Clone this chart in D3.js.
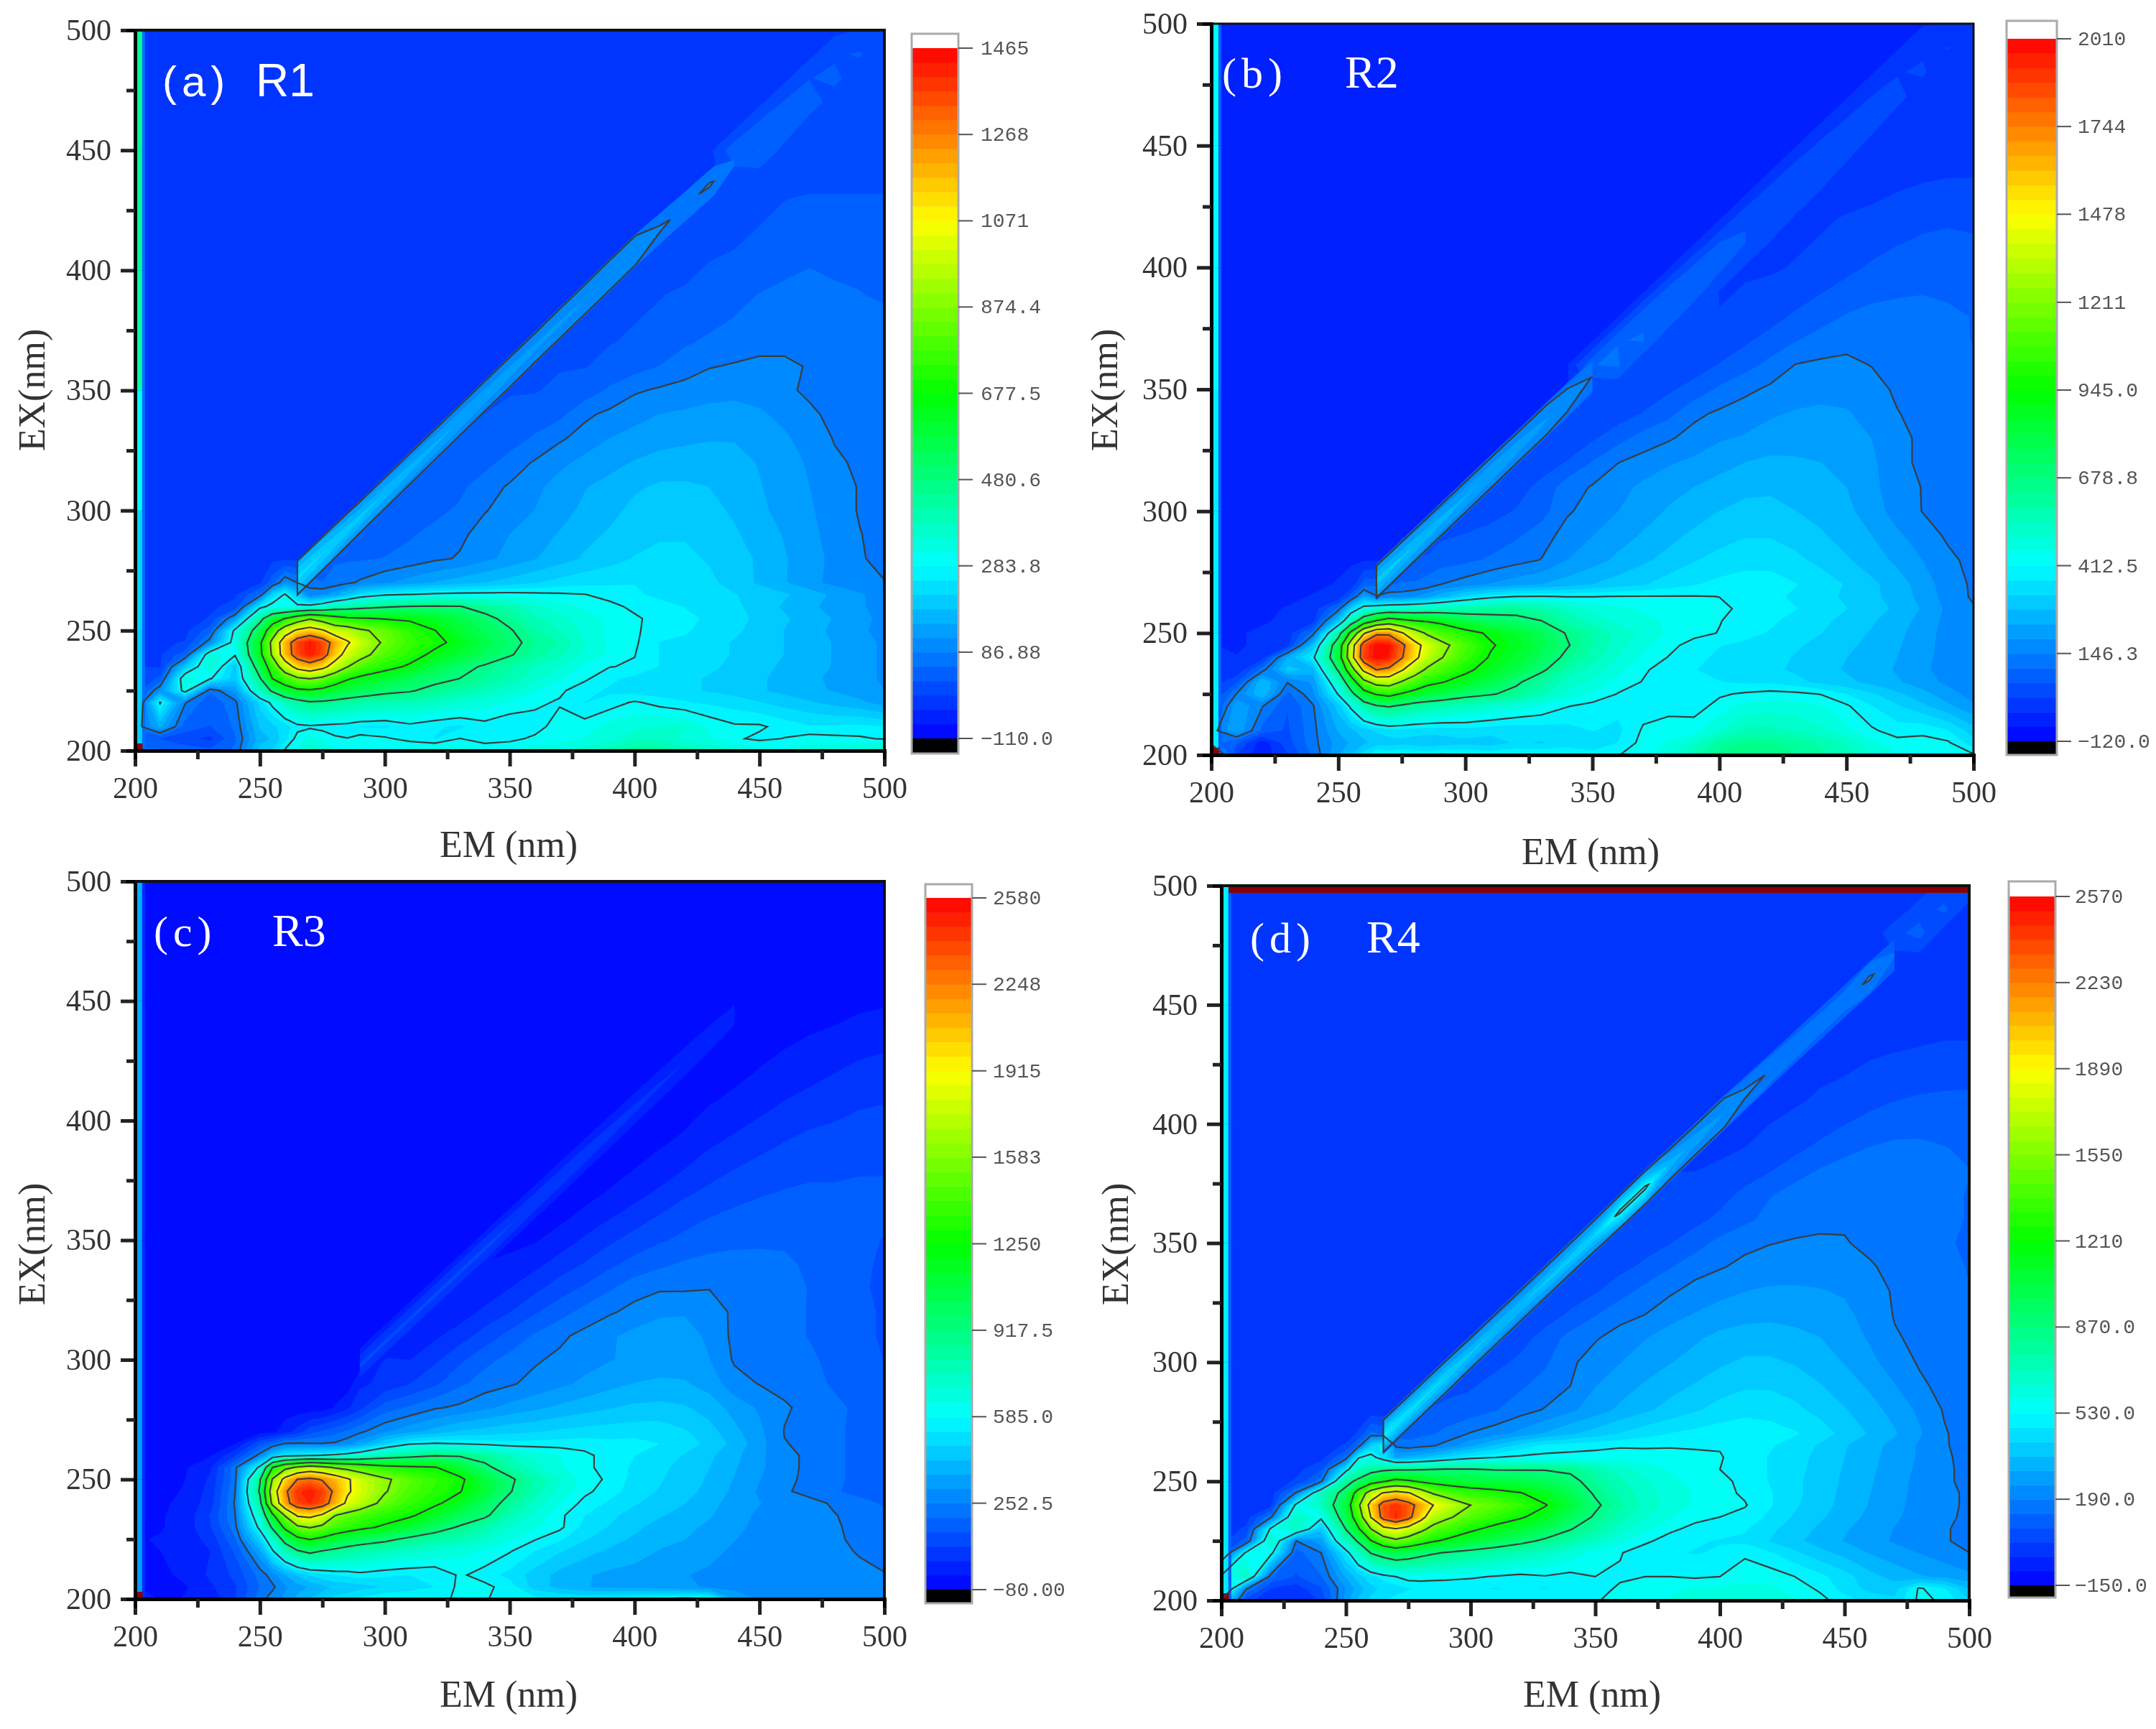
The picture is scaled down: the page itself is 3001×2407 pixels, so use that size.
<!DOCTYPE html>
<html><head><meta charset="utf-8"><script src="https://cdnjs.cloudflare.com/ajax/libs/d3/7.8.5/d3.min.js"></script>
<style>html,body{margin:0;background:#fff}svg{display:block;filter:blur(0.7px)}</style></head><body>
<svg id="c" width="3001" height="2407"></svg>
<script>
const EM=[200,210,220,230,240,250,255,260,265,270,275,280,285,290,300,310,320,330,340,350,360,370,380,390,400,410,420,430,440,450,460,470,480,490,500];
const EX=[200,205,210,220,225,230,235,240,245,250,255,260,265,270,280,290,300,310,320,330,340,350,360,370,380,390,400,410,420,430,440,450,460,470,480,490,500];
// rows run from EX 200 upward; short rows are right-aligned (to their left lies the flat background)
const R1=[
[60,60,40,30,60,200,220,290,320,380,350,320,300,320,300,330,340,330,320,310,340,350,360,400,450,440,400,380,350,330,320,340,340,360,400],
[30,20,0,-20,50,170,190,240,300,330,310,290,285,300,290,270,250,285,260,275,290,290,320,340,370,370,340,320,290,275,285,300,295,290,280],
[60,160,40,20,60,190,210,235,270,275,270,265,262,250,245,270,255,245,270,255,270,300,300,330,340,350,350,310,290,290,270,255,255,260,250],
[-5,290,90,30,75,230,300,380,430,465,460,445,430,415,400,390,370,350,330,310,290,280,250,265,290,270,255,245,235,220,205,190,175,160,140],
[-10,120,310,60,130,380,500,600,650,660,640,600,570,550,510,490,450,420,390,360,320,290,265,245,235,230,225,215,205,190,175,160,150,135,120],
[-10,30,340,290,200,470,680,770,850,880,840,760,690,650,600,550,510,480,440,400,360,320,290,260,240,230,225,215,205,190,175,160,145,130,115],
[-10,-15,200,360,200,560,760,980,1130,1190,1120,1000,880,800,720,660,570,510,470,420,380,350,310,285,280,250,240,225,210,195,180,165,150,130,115],
[-10,-15,40,340,290,640,900,1170,1350,1430,1350,1150,1010,930,800,730,650,600,540,490,430,390,340,310,285,250,240,230,215,200,185,170,150,130,115],
[-10,-15,-10,110,320,650,920,1180,1360,1440,1360,1210,1090,990,850,760,710,640,570,510,450,410,350,310,290,250,245,230,215,200,185,170,150,130,115],
[-15,-20,-20,40,300,560,780,980,1100,1150,1090,980,960,900,830,740,680,600,540,490,420,380,340,310,290,265,255,240,225,205,185,165,145,125,110],
[-15,-20,-20,-10,130,440,590,680,780,860,800,740,700,690,670,660,620,570,510,450,390,360,330,310,290,270,260,245,230,210,190,170,150,130,110],
[-15,-20,-20,-15,-5,260,310,300,300,310,340,400,420,440,470,485,490,485,440,400,360,330,310,295,275,260,250,240,225,205,180,160,140,125,105],
[-15,-20,-20,-20,-15,60,220,290,200,95,115,140,190,240,275,285,295,300,300,300,295,290,285,270,255,245,240,230,220,205,190,170,145,125,100],
[-15,-20,-20,-20,-20,-15,40,120,85,80,55,65,78,92,115,135,155,170,185,200,215,230,240,245,250,245,235,225,205,180,155,130,110,95,88],
[-20,-20,20,50,50,50,55,65,80,90,110,130,150,170,190,205,220,225,225,215,200,180,155,135,110,90,78],
[-20,-20,-20,40,45,50,65,80,100,120,140,155,175,190,205,215,215,205,190,170,150,130,105,88,78],
[-20,-20,30,40,45,60,85,100,120,140,160,175,195,205,205,195,180,160,140,125,100,85,75],
[-20,30,35,45,75,90,110,135,150,165,180,190,190,185,170,155,135,120,100,85,80],
[-20,28,30,40,70,90,110,130,140,155,165,170,170,165,150,135,115,92,82,78],
[-20,25,30,35,60,82,100,120,130,140,145,150,150,140,125,105,85,78,75],
[-20,22,25,30,45,80,95,110,120,125,130,130,125,110,92,80,75,70],
[-20,20,20,25,35,60,82,92,100,108,112,105,92,82,75,70,65],
[-20,18,20,20,30,40,55,70,85,90,92,92,85,75,70,65],
[-20,18,20,20,25,35,50,60,70,80,80,75,70,65,60],
[-20,18,20,20,25,35,45,55,65,70,70,70,65,60],
[-20,16,20,20,25,35,45,55,60,60,60,55,50],
[-20,15,15,15,25,30,40,50,55,50,50,45],
[-20,15,15,15,20,30,40,45,45,40,35],
[-20,14,15,15,20,30,35,35,35,30],
[-20,12,15,10,20,25,25,25,25],
[-20,10,10,5,5,5,5,5],
[45,55,10,5,0,0,0],
[35,45,5,0,-5,-5],
[25,40,5,-5,-10],
[20,30,0,-10],
[15,25,-5],
[-10,10]];
const R2=[
[300,10,-60,10,110,230,280,350,420,400,420,410,400,420,415,400,415,410,400,390,410,440,480,560,650,670,660,640,600,560,500,460,450,460,420],
[120,70,-60,40,130,210,240,270,300,300,310,300,290,300,310,300,330,320,350,330,370,430,460,520,610,640,640,620,580,540,470,430,430,420,340],
[120,230,90,50,130,240,270,300,330,350,350,345,340,340,350,340,335,345,350,370,355,420,430,440,500,560,560,540,510,470,420,390,400,370,300],
[0,230,150,60,140,300,430,580,660,690,650,610,590,570,540,510,480,450,415,395,385,390,400,390,430,470,480,475,460,420,370,330,290,245,200],
[-10,150,280,90,180,420,620,850,960,1000,930,870,820,800,730,690,640,560,490,450,410,390,375,370,405,420,430,425,410,370,330,290,250,210,170],
[-15,50,280,150,200,520,820,1150,1300,1320,1200,1100,1000,960,880,790,700,610,530,490,440,410,385,370,370,360,360,340,310,290,265,240,210,180,155],
[-20,-25,120,300,260,700,1100,1530,1750,1700,1500,1320,1180,1100,980,880,800,700,590,530,470,420,390,370,350,345,335,315,295,275,255,230,200,170,150],
[-25,-30,-10,240,390,820,1380,1880,2000,1960,1760,1540,1350,1230,1060,930,850,760,650,570,500,450,410,380,360,350,340,320,300,280,260,235,205,170,150],
[-30,-35,-25,-5,280,800,1350,1850,2000,1980,1800,1560,1400,1280,1100,960,880,790,690,590,520,470,430,390,370,360,350,330,310,290,265,240,210,170,150],
[-30,-35,-25,-10,120,600,1000,1450,1700,1700,1500,1320,1180,1100,1000,920,850,770,670,590,530,490,450,430,410,380,365,345,325,300,275,245,215,170,155],
[-35,-35,-35,-25,-5,300,560,800,960,1060,1000,950,930,900,800,740,720,680,590,530,490,470,450,430,415,390,375,355,335,310,285,255,220,175,150],
[-35,-35,-35,-30,-15,120,330,460,500,520,530,540,560,570,590,620,630,590,530,490,470,450,440,430,420,405,390,370,350,325,300,270,230,180,150],
[-35,-35,-35,-35,-30,-20,80,230,150,170,170,190,220,260,340,390,412,415,410,410,415,415,415,415,412,395,380,360,340,315,290,260,220,170,140],
[-35,-35,-35,-35,-35,-30,-20,80,90,100,110,105,115,145,170,195,215,235,255,280,300,320,345,365,380,385,385,370,350,320,290,255,215,165,140],
[-35,-35,20,80,80,80,90,110,130,148,190,215,245,270,295,320,340,355,355,335,310,285,255,225,190,155,135],
[-35,-35,-35,50,60,70,95,125,165,190,215,240,265,290,305,320,320,305,285,260,235,200,165,140,135],
[-35,-35,30,45,60,85,140,165,190,215,240,255,280,295,295,280,265,245,215,170,145,140,135],
[-35,30,40,70,125,150,175,200,220,235,250,265,270,260,250,235,205,160,145,135,130],
[-35,28,35,60,105,145,165,185,200,220,235,245,240,235,225,200,155,140,135,130],
[-35,25,30,50,85,120,140,165,185,195,210,220,220,210,190,155,140,130,125],
[-35,22,25,35,60,90,135,155,170,185,195,200,195,175,148,135,125,120],
[-35,20,20,30,50,75,110,135,155,170,175,175,160,140,130,120,115],
[100,110,15,20,35,60,85,115,148,155,155,145,135,130,120,110],
[100,105,15,20,30,50,75,100,120,135,135,130,125,115,100],
[95,95,15,15,25,40,65,85,105,115,120,115,110,100],
[85,85,10,15,20,35,55,75,90,95,100,95,90],
[70,70,10,10,15,30,45,65,80,85,85,75],
[60,60,10,10,15,25,40,55,65,70,65],
[55,55,5,10,15,25,35,45,50,45],
[45,50,5,5,5,15,25,30,30],
[40,45,0,-5,-5,0,5,5],
[30,40,-5,-10,-15,-20,-15],
[20,35,-10,-20,-25,-25],
[15,30,-15,-25,-30],
[10,20,-20,-30],
[5,15,-25],
[-30,-10]];
const R3=[
[100,-40,-20,-10,80,230,280,320,380,420,450,490,510,540,580,590,560,600,590,560,550,540,530,560,570,590,610,590,350,300,290,285,280,275,270],
[-20,-50,-30,20,80,200,240,300,340,370,400,430,440,450,480,500,530,600,600,560,450,400,370,340,340,330,320,300,290,280,275,270,270,265,260],
[-30,-40,-10,40,100,220,280,360,430,480,510,530,540,560,540,530,530,595,560,510,450,400,370,350,340,320,310,300,290,280,275,270,265,260,255],
[-40,-25,-10,30,150,350,570,760,900,960,910,870,830,800,760,720,690,660,630,590,530,480,440,410,390,360,340,320,300,280,270,265,260,250,235],
[-30,-20,0,50,190,480,700,1000,1190,1260,1200,1120,1060,1020,960,880,820,780,720,650,590,540,480,440,410,380,365,335,310,290,275,265,258,245,225],
[-35,-30,0,80,230,620,950,1300,1530,1600,1520,1420,1360,1300,1220,1110,1000,900,800,700,650,600,510,470,430,400,380,350,320,295,280,270,258,240,215],
[-40,-30,-5,90,250,720,1200,1600,1950,1990,1880,1590,1500,1440,1340,1280,1150,1030,950,780,680,600,530,490,450,425,400,370,325,300,280,270,255,235,205],
[-45,-35,-10,60,260,850,1650,2150,2400,2480,2380,2120,1860,1740,1510,1380,1280,1170,1010,860,730,640,565,520,480,450,420,385,335,310,285,270,245,220,190],
[-50,-40,-20,50,250,950,1750,2200,2450,2520,2420,2200,1950,1820,1600,1440,1350,1260,1110,930,780,680,600,555,500,470,440,400,350,300,260,235,205,175,145],
[-50,-45,-25,40,230,900,1600,2000,2250,2300,2230,2100,1950,1800,1620,1480,1370,1290,1090,950,800,700,620,570,510,480,450,410,360,310,265,240,210,180,150],
[-50,-45,-30,20,230,620,1250,1500,1620,1720,1650,1560,1500,1440,1320,1280,1260,1120,960,820,720,650,600,560,520,490,450,420,370,320,270,240,210,180,150],
[-60,-60,-55,-30,80,280,450,540,560,580,590,610,640,680,800,860,910,900,850,750,680,640,600,560,530,500,470,430,380,320,270,240,210,180,150],
[-60,-60,-60,-60,-30,130,190,255,260,255,255,260,290,340,470,570,590,580,560,545,550,555,560,545,550,530,500,460,400,330,255,240,210,180,150],
[-60,-60,-60,-60,-60,-50,-40,10,50,120,150,175,205,240,300,345,385,425,440,460,470,485,495,500,505,505,480,440,380,320,250,230,210,180,150],
[-55,-55,-55,-20,20,70,170,205,245,265,295,325,350,375,395,415,430,435,425,395,340,300,260,235,210,185,160],
[-55,-55,-55,20,45,85,130,185,225,245,270,295,320,345,365,375,370,340,275,250,235,215,190,170,145],
[-55,-55,40,30,75,130,180,215,245,265,285,305,320,330,330,310,245,235,220,205,185,165,140],
[-60,10,20,60,110,160,205,240,270,300,325,345,345,290,240,225,210,195,175,155,135],
[-60,0,0,45,85,135,175,215,245,270,295,300,285,240,225,210,195,175,155,135],
[-60,-10,-10,30,70,115,150,190,230,245,245,250,240,230,215,195,170,150,130],
[-60,-20,-20,15,55,90,130,160,185,205,215,215,210,205,190,170,150,135],
[-60,-30,-30,0,40,75,110,135,155,175,185,190,190,180,165,150,140],
[-60,-40,-40,-10,25,55,90,120,140,155,165,170,170,165,160,150],
[-60,-45,-45,-20,10,40,75,100,120,135,145,150,150,155,155],
[-60,-45,-45,-25,0,30,60,85,105,120,130,130,135,135],
[-60,-45,-45,-30,-10,25,45,70,90,105,110,115,115],
[-60,-45,-45,-35,-5,15,35,60,75,85,95,100],
[-60,-45,-45,-35,-15,5,25,45,65,75,80],
[-60,-45,-45,-40,-20,-5,10,30,50,60],
[-60,-50,-50,-40,-25,-10,5,15,25],
[-60,-50,-50,-45,-35,-25,-15,-10],
[-30,-25,-55,-50,-40,-35,-30],
[-35,-30,-55,-55,-45,-45],
[-40,-35,-60,-55,-50],
[-45,-40,-60,-60],
[-50,-45,-60],
[-60,-50]];
const R4=[
[500,40,-30,-40,30,280,370,430,470,490,500,510,520,520,515,510,500,520,520,525,550,570,590,610,620,620,610,590,550,500,450,430,545,520,420],
[800,200,20,-10,70,250,330,400,430,450,470,480,490,495,480,470,480,470,500,505,540,560,580,590,600,610,600,560,520,450,400,390,540,480,360],
[560,700,140,70,130,310,390,450,500,530,560,560,550,545,540,525,510,525,510,530,520,530,530,520,530,560,560,530,490,440,380,340,310,290,260],
[0,560,560,110,190,480,680,880,960,1020,980,930,890,860,810,760,720,680,620,570,535,490,480,470,480,520,480,430,380,340,300,270,245,215,190],
[-5,100,700,190,280,700,900,1200,1400,1500,1420,1320,1230,1180,1080,1000,920,840,760,680,600,545,500,480,470,460,415,375,335,300,270,240,215,195,175],
[-10,30,560,700,380,880,1180,1550,1800,1880,1780,1620,1470,1380,1250,1150,1080,990,880,770,670,600,545,510,500,480,430,390,350,310,275,245,215,195,175],
[-15,-5,180,700,560,1000,1380,1900,2330,2480,2320,2000,1700,1600,1430,1320,1230,1130,980,850,730,650,590,550,530,510,460,410,370,330,290,255,225,200,180],
[-15,-10,-5,560,700,1050,1500,2000,2350,2450,2330,2130,1890,1780,1550,1450,1340,1220,1060,900,770,680,620,580,560,535,480,425,385,340,300,260,230,205,180],
[-15,-15,0,200,700,950,1350,1700,1920,2000,1930,1720,1530,1430,1330,1280,1220,1120,1000,850,740,670,620,580,550,520,480,430,390,345,305,265,230,205,180],
[-20,-20,-15,30,170,800,920,1090,1190,1280,1240,1180,1130,1100,1060,1040,1020,980,920,800,710,650,600,570,550,510,470,430,390,350,310,270,230,200,175],
[-20,-20,-15,0,70,480,700,780,830,850,850,860,870,880,880,860,860,860,840,740,670,620,580,555,530,500,470,435,395,355,315,275,235,200,175],
[-20,-20,-20,-15,0,150,520,580,460,300,320,350,390,430,500,530,545,550,555,560,570,560,550,540,535,500,470,440,400,360,320,280,240,200,170],
[-20,-20,-20,-20,-15,30,150,400,520,175,155,170,185,210,290,370,440,490,500,510,520,520,525,525,525,505,480,450,410,365,325,285,240,195,170],
[-20,-20,-20,-20,-20,-15,30,150,120,110,110,120,130,150,195,225,265,310,350,385,420,450,475,490,505,510,500,480,445,400,355,310,255,195,165],
[-20,-20,20,70,90,90,100,130,165,195,235,275,315,350,380,410,435,455,450,430,400,365,325,285,235,185,160],
[-20,-20,-20,60,70,100,125,155,190,245,280,310,340,365,395,410,410,395,365,330,295,250,200,175,155],
[-20,-20,30,60,90,125,180,215,245,275,300,325,350,370,370,355,330,300,265,215,185,170,150],
[-20,30,55,100,155,185,215,245,275,295,320,330,330,320,305,280,240,195,180,165,145],
[-20,28,50,85,130,170,190,225,250,270,285,290,285,280,260,225,187,175,160,140],
[-20,28,45,70,110,150,180,210,230,245,255,255,250,240,210,185,170,155,135],
[-20,26,40,60,90,130,165,185,205,215,220,220,215,195,178,165,150,130],
[-20,25,35,50,75,110,150,175,188,195,195,193,180,170,155,140,125],
[-20,25,30,40,60,90,120,150,170,182,184,180,170,160,145,130],
[-20,22,25,35,55,95,130,160,175,180,180,170,160,145,130],
[-20,20,20,25,45,75,110,140,160,170,170,160,150,135],
[-20,16,15,20,35,60,90,115,135,145,145,135,125],
[-20,15,15,20,30,50,75,95,110,115,115,110],
[-20,15,15,15,25,40,60,75,85,90,90],
[-20,12,10,15,20,30,45,50,55,60],
[-20,10,10,10,15,20,25,30,30],
[-20,10,10,5,5,5,10,10],
[-20,8,5,0,-5,-5,-5],
[-20,8,5,-5,-10,-10],
[-20,5,0,-10,-15],
[60,100,-5,-15],
[50,90,-10],
[40,80]];
// thin scatter ridge along the diagonal: values along EM at the crest and at its shoulders
const ridgeEM1=[265,270,280,290,300,310,320,330,340,350,360,370,380,390,400,410,420,430,440];
const ridgeTop1=[230,225,215,200,185,170,160,150,145,135,130,125,120,115,105,92,80,92,60];
const ridgeSh1=[165,160,140,115,110,105,100,98,95,95,86,92,90,92,88,70,60,60,30];
const ridgeEM2=[265,270,280,290,300,310,320,330,340,350];
const ridgeTop2=[300,300,280,260,240,230,220,200,170,145];
const ridgeSh2=[200,190,180,170,165,160,150,148,140,110];
const ridgeEM3=[290,300,310,320,330,340,350,360,370,380,390,400,410,420,430,440];
const ridgeTop3=[100,100,100,100,100,100,90,80,75,70,60,50,40,30,20,10];
const ridgeSh3=[10,10,10,10,10,10,5,0,0,-5,-10,-15,-20,-25,-30,-40];
const ridgeEM4=[265,270,280,290,300,310,320,330,340,350,360,370,380,390,400,410,420,430,440,450,460,470];
const ridgeTop4=[500,470,440,420,380,360,360,380,400,430,560,560,340,280,250,210,185,180,170,165,200,140];
const ridgeSh4=[280,270,260,250,230,225,220,225,230,240,300,310,220,200,200,150,130,125,120,120,140,100];
const ridges=[{em:ridgeEM1,top:ridgeTop1,sh:ridgeSh1,off:[7,8,0],floor:45},{em:ridgeEM2,top:ridgeTop2,sh:ridgeSh2,off:[6,5,3],floor:45},{em:ridgeEM3,top:ridgeTop3,sh:ridgeSh3,off:[8,5,3],floor:-30},{em:ridgeEM4,top:ridgeTop4,sh:ridgeSh4,off:[4,3,0],floor:35}];
const ridgeAcross=[-8.5,-6,0,6,8.5];
const backgrounds=[-20,-35,-60,-20];
const panelNames=["(a)","(b)","(c)","(d)"];
const sampleNames=["R1","R2","R3","R4"];
const ticks1=["1465","1268","1071","874.4","677.5","480.6","283.8","86.88","-110.0"];
const ticks2=["2010","1744","1478","1211","945.0","678.8","412.5","146.3","-120.0"];
const ticks3=["2580","2248","1915","1583","1250","917.5","585.0","252.5","-80.00"];
const ticks4=["2570","2230","1890","1550","1210","870.0","530.0","190.0","-150.0"];
const stripEX=[200,250,300,350,400,450,500];
const stripA=[210,220,300,420,440,460];
const stripB=[380,380,380,400,420,440];
const stripC=[330,330,330,350,380,380];
const stripD=[470,480,480,480,480,490];
const stripOuter=[60,80,40,100];
const majorTicks=[200,250,300,350,400,450,500];
const minorTicks=[225,275,325,375,425,475];
const layouts=[
{l:188,r:1231,t:42,b:1045,bl:1269,br:1334,bt:47,bTop:67,bBot:1028,bb:1049,lx:1365,ex:46,emx:708,emy:1177,ey:543,lab:[226,356,134],font:"Liberation Sans"},
{l:1686,r:2747,t:33,b:1051,bl:2793,br:2863,bt:29,bTop:54,bBot:1032,bb:1051,lx:2892,ex:1539,emx:2214,emy:1187,ey:543,lab:[1701,1872,122],font:"Liberation Serif"},
{l:188,r:1231,t:1227,b:2226,bl:1288,br:1353,bt:1231,bTop:1250,bBot:2213,bb:2232,lx:1382,ex:46,emx:708,emy:2360,ey:1732,lab:[214,379,1317],font:"Liberation Serif"},
{l:1700,r:2741,t:1233,b:2228,bl:2796,br:2861,bt:1227,bTop:1248,bBot:2207,bb:2224,lx:2888,ex:1554,emx:2216,emy:2360,ey:1732,lab:[1740,1902,1326],font:"Liberation Serif"}];
const grids=[R1,R2,R3,R4], tickSets=[ticks1,ticks2,ticks3,ticks4], strips=[stripA,stripB,stripC,stripD];
const BANDS=48;
const rowLens=EX.map(e=>e<=270?35:EM.filter(v=>v>=({280:265,290:275,300:285}[e]||e-10)).length);
const svg=d3.select("#c");
const defs=svg.append("defs");
grids.forEach((rows,pi)=>{
 const L=layouts[pi],labels=tickSets[pi],bg=backgrounds[pi];
 const nums=labels.map(Number),vmax=nums[0],vmin=nums[8];
 rows.forEach((r,i)=>{if(r.length!==rowLens[i])throw new Error(`panel ${pi} row ${EX[i]} has ${r.length}, wants ${rowLens[i]}`)});
 if(rows.length!==EX.length)throw new Error("rows "+pi+" "+rows.length);
 const values=[];rows.forEach(r=>{for(let i=0;i<EM.length-r.length;i++)values.push(bg);values.push(...r)});
 const x=d3.scaleLinear().domain([200,500]).range([L.l,L.r]);
 const y=d3.scaleLinear().domain([200,500]).range([L.b,L.t]);
 const ix=d3.scaleLinear().domain(d3.range(EM.length)).range(EM).clamp(true);
 const iy=d3.scaleLinear().domain(d3.range(EX.length)).range(EX).clamp(true);
 const color=d3.scaleLinear().domain(d3.range(5).map(k=>vmin+k*(vmax-vmin)/4)).range(["#0000ff","#00ffff","#00ff00","#ffff00","#ff0000"]).clamp(true);
 const step=(vmax-vmin)/BANDS;
 const levels=d3.range(BANDS).map(k=>vmin+k*step);
 const path=d3.geoPath(d3.geoTransform({point(a,b){this.stream.point(x(ix(a-0.5)),y(iy(b-0.5)))}}));
 const cg=d3.contours().size([EM.length,EX.length]);
 defs.append("clipPath").attr("id","clip"+pi).append("rect").attr("x",L.l).attr("y",L.t).attr("width",L.r-L.l).attr("height",L.b-L.t);
 const g=svg.append("g");
 const plot=g.append("g").attr("clip-path",`url(#clip${pi})`);
 plot.selectAll("path.band").data(levels).join("path").attr("class","band")
  .attr("d",v=>path(cg.contour(values,v))).attr("fill",v=>color(v+step/2)).attr("fill-rule","evenodd");
 // diagonal ridge on its own sheared grid
 const rd=ridges[pi];
 const n=rd.em.length;
 const rVals=[];ridgeAcross.forEach((o,j)=>{rd.em.forEach((e,i)=>rVals.push(j===2?rd.top[i]:(j===1||j===3)?rd.sh[i]:bg))});
 const ia=d3.scaleLinear().domain(d3.range(n)).range(rd.em).clamp(true);
 const ic=d3.scaleLinear().domain(d3.range(ridgeAcross.length)).range(ridgeAcross).clamp(true);
 const centre=d3.scaleLinear().domain([270,400,500]).range(rd.off);
 const rPath=d3.geoPath(d3.geoTransform({point(a,b){const e=ia(a-0.5);this.stream.point(x(e),y(e+centre(e)+ic(b-0.5)))}}));
 const rCg=d3.contours().size([n,ridgeAcross.length]);
 plot.selectAll("path.rb").data(levels.filter(v=>v>=rd.floor)).join("path").attr("class","rb")
  .attr("d",v=>rPath(rCg.contour(rVals,v))).attr("fill",v=>color(v+step/2)).attr("fill-rule","evenodd");
 // left edge scatter strip
 const strip=strips[pi];
 plot.selectAll("rect.outer").data(strip).join("rect").attr("class","outer").attr("x",x(200)).attr("width",x(204)-x(200))
  .attr("y",(d,i)=>y(stripEX[i+1])).attr("height",(d,i)=>y(stripEX[i])-y(stripEX[i+1])).attr("fill",color(stripOuter[pi]));
 plot.selectAll("rect.inner").data(strip).join("rect").attr("class","inner").attr("x",x(200)).attr("width",x(202.8)-x(200))
  .attr("y",(d,i)=>y(stripEX[i+1])).attr("height",(d,i)=>y(stripEX[i])-y(stripEX[i+1])).attr("fill",d=>color(d));
 plot.append("rect").attr("x",x(200)).attr("width",x(203)-x(200)).attr("y",y(203)).attr("height",y(200)-y(203)).attr("fill","#8b0000");
 if(pi===3)plot.append("rect").attr("x",x(203)).attr("width",x(500)-x(203)).attr("y",y(500)).attr("height",y(497)-y(500)).attr("fill","#8b0000");
 plot.selectAll("path.line").data(nums.slice(1,8)).join("path").attr("class","line")
  .attr("d",v=>path(cg.contour(values,v))).attr("fill","none").attr("stroke","#3c3c3c").attr("stroke-width",2.2);
 plot.selectAll("path.rl").data(nums.slice(1,8).filter(v=>v>=rd.floor)).join("path").attr("class","rl")
  .attr("d",v=>rPath(rCg.contour(rVals,v))).attr("fill","none").attr("stroke","#3c3c3c").attr("stroke-width",2.2);
 // axes
 const ax=g.append("g").attr("font-family","Liberation Serif");
 const bot=ax.append("g").attr("transform",`translate(0,${L.b})`).call(d3.axisBottom(x).tickValues(majorTicks).tickSize(22).tickPadding(14).tickFormat(d3.format("d")));
 bot.append("g").call(d3.axisBottom(x).tickValues(minorTicks).tickSize(12).tickFormat(""));
 const lef=ax.append("g").attr("transform",`translate(${L.l},0)`).call(d3.axisLeft(y).tickValues(majorTicks).tickSize(20).tickPadding(13).tickFormat(d3.format("d")));
 lef.append("g").call(d3.axisLeft(y).tickValues(minorTicks).tickSize(12).tickFormat(""));
 ax.selectAll(".domain").attr("stroke","#000").attr("stroke-width",5);
 ax.selectAll(".tick line").attr("stroke","#222").attr("stroke-width",5);
 ax.selectAll("text").attr("font-size",42).attr("font-family","Liberation Serif").attr("fill","#333");
 g.append("path").attr("d",`M${L.l},${L.t}H${L.r}V${L.b}`).attr("fill","none").attr("stroke","#111").attr("stroke-width",pi===1?3:4);
 // panel labels
 g.append("text").attr("x",L.lab[0]).attr("y",L.lab[2]).text(panelNames[pi]).attr("fill","#fff").attr("font-family",L.font).attr("font-size",60).attr("letter-spacing",7);
 g.append("text").attr("x",L.lab[1]).attr("y",L.lab[2]).text(sampleNames[pi]).attr("fill","#fff").attr("font-family",L.font).attr("font-size",64);
 // axis titles
 g.append("text").attr("x",L.emx).attr("y",L.emy+16).attr("text-anchor","middle").text("EM (nm)").attr("font-family","Liberation Serif").attr("font-size",52).attr("fill","#333");
 g.append("text").attr("transform",`translate(${L.ex+16},${L.ey}) rotate(-90)`).attr("text-anchor","middle").text("EX(nm)").attr("font-family","Liberation Serif").attr("font-size",52).attr("fill","#333");
 // colour bar
 const by=d3.scaleLinear().domain([vmin,vmax]).range([L.bBot,L.bTop]);
 const bw=L.br-L.bl;
 const bar=g.append("g");
 bar.append("rect").attr("x",L.bl).attr("y",L.bt).attr("width",bw).attr("height",L.bb-L.bt).attr("fill","#fff");
 bar.selectAll("rect.b").data(levels).join("rect").attr("class","b").attr("x",L.bl).attr("width",bw)
  .attr("y",v=>by(v+step)).attr("height",v=>by(v)-by(v+step)+0.5).attr("fill",v=>color(v+step/2));
 bar.append("rect").attr("x",L.bl).attr("y",L.bBot).attr("width",bw).attr("height",L.bb-L.bBot).attr("fill","#000");
 bar.append("rect").attr("x",L.bl).attr("y",L.bt).attr("width",bw).attr("height",L.bb-L.bt).attr("fill","none").attr("stroke","#aaa").attr("stroke-width",3);
 bar.selectAll("line").data(nums).join("line").attr("x1",L.br).attr("x2",L.br+20).attr("y1",v=>by(v)).attr("y2",v=>by(v)).attr("stroke","#555").attr("stroke-width",2);
 bar.selectAll("text").data(labels).join("text").attr("x",L.lx).attr("y",d=>by(+d)+9).text(d=>d.replace("-","\u2212"))
  .attr("font-family","Liberation Mono").attr("font-size",28).attr("fill","#555");
});
</script></body></html>
